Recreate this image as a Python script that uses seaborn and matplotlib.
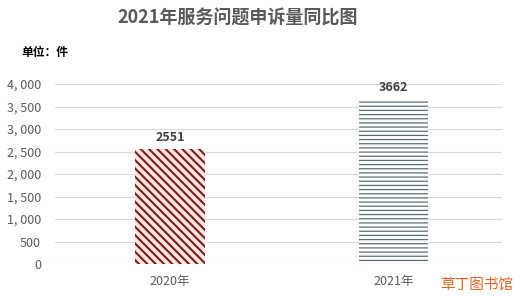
import matplotlib
matplotlib.use('Agg')
import matplotlib.pyplot as plt
import seaborn as sns
import pandas as pd

years = ['2020年', '2021年']
counts = [2551, 3662]
yticks = [0, 500, 1000, 1500, 2000, 2500, 3000, 3500, 4000]

sns.set_style('white')
plt.rcParams['font.family'] = ['Noto Sans CJK SC', 'DejaVu Sans']
plt.rcParams['hatch.linewidth'] = 1.5

df = pd.DataFrame({'year': years, 'count': counts})

fig = plt.figure(figsize=(5.27, 2.98), dpi=100)
ax = fig.add_axes([0.104, 0.114, 0.849, 0.604])
sns.barplot(data=df, x='year', y='count', ax=ax, width=0.31, color='white')

bars = ax.patches
bars[0].set_facecolor('#fde4e1')
bars[0].set_edgecolor('#7b1c1c')
bars[0].set_hatch('\\\\\\\\')
bars[1].set_facecolor('white')
bars[1].set_edgecolor('#5a6e78')
bars[1].set_hatch('----')
if hasattr(bars[1], 'set_hatch_linewidth'):
    bars[1].set_hatch_linewidth(0.9)
for b in bars:
    b.set_linewidth(0)

for b, v in zip(bars, counts):
    ax.text(b.get_x() + b.get_width() / 2, v + 120, str(v), ha='center', va='bottom',
            fontsize=9, fontweight='bold', color='#404040')

ax.set_xlim(-0.515, 1.485)
ax.set_ylim(0, 4000)
ax.set_yticks(yticks)
ax.set_yticklabels([f'{t:,}'.replace(',', ', ') for t in yticks], fontsize=9, color='#595959')
ax.tick_params(axis='x', labelsize=9, colors='#595959', length=0, pad=8)
ax.tick_params(axis='y', length=0, pad=10)
ax.yaxis.grid(True, color='#d9d9d9', linewidth=0.8)
ax.set_axisbelow(True)
for s in ax.spines.values():
    s.set_visible(False)
ax.set_xlabel('')
ax.set_ylabel('')

fig.text(0.45, 0.94, '2021年服务问题申诉量同比图', ha='center', va='center',
         fontsize=13, fontweight='bold', color='#595959')
fig.text(0.04, 0.825, '单位：件', ha='left', va='center', fontsize=8.5,
         fontweight='bold', color='black')
fig.text(0.905, 0.045, '草丁图书馆', ha='center', va='center', fontsize=10.5,
         color='#e8641e')

fig.savefig('out.png', dpi=100)
